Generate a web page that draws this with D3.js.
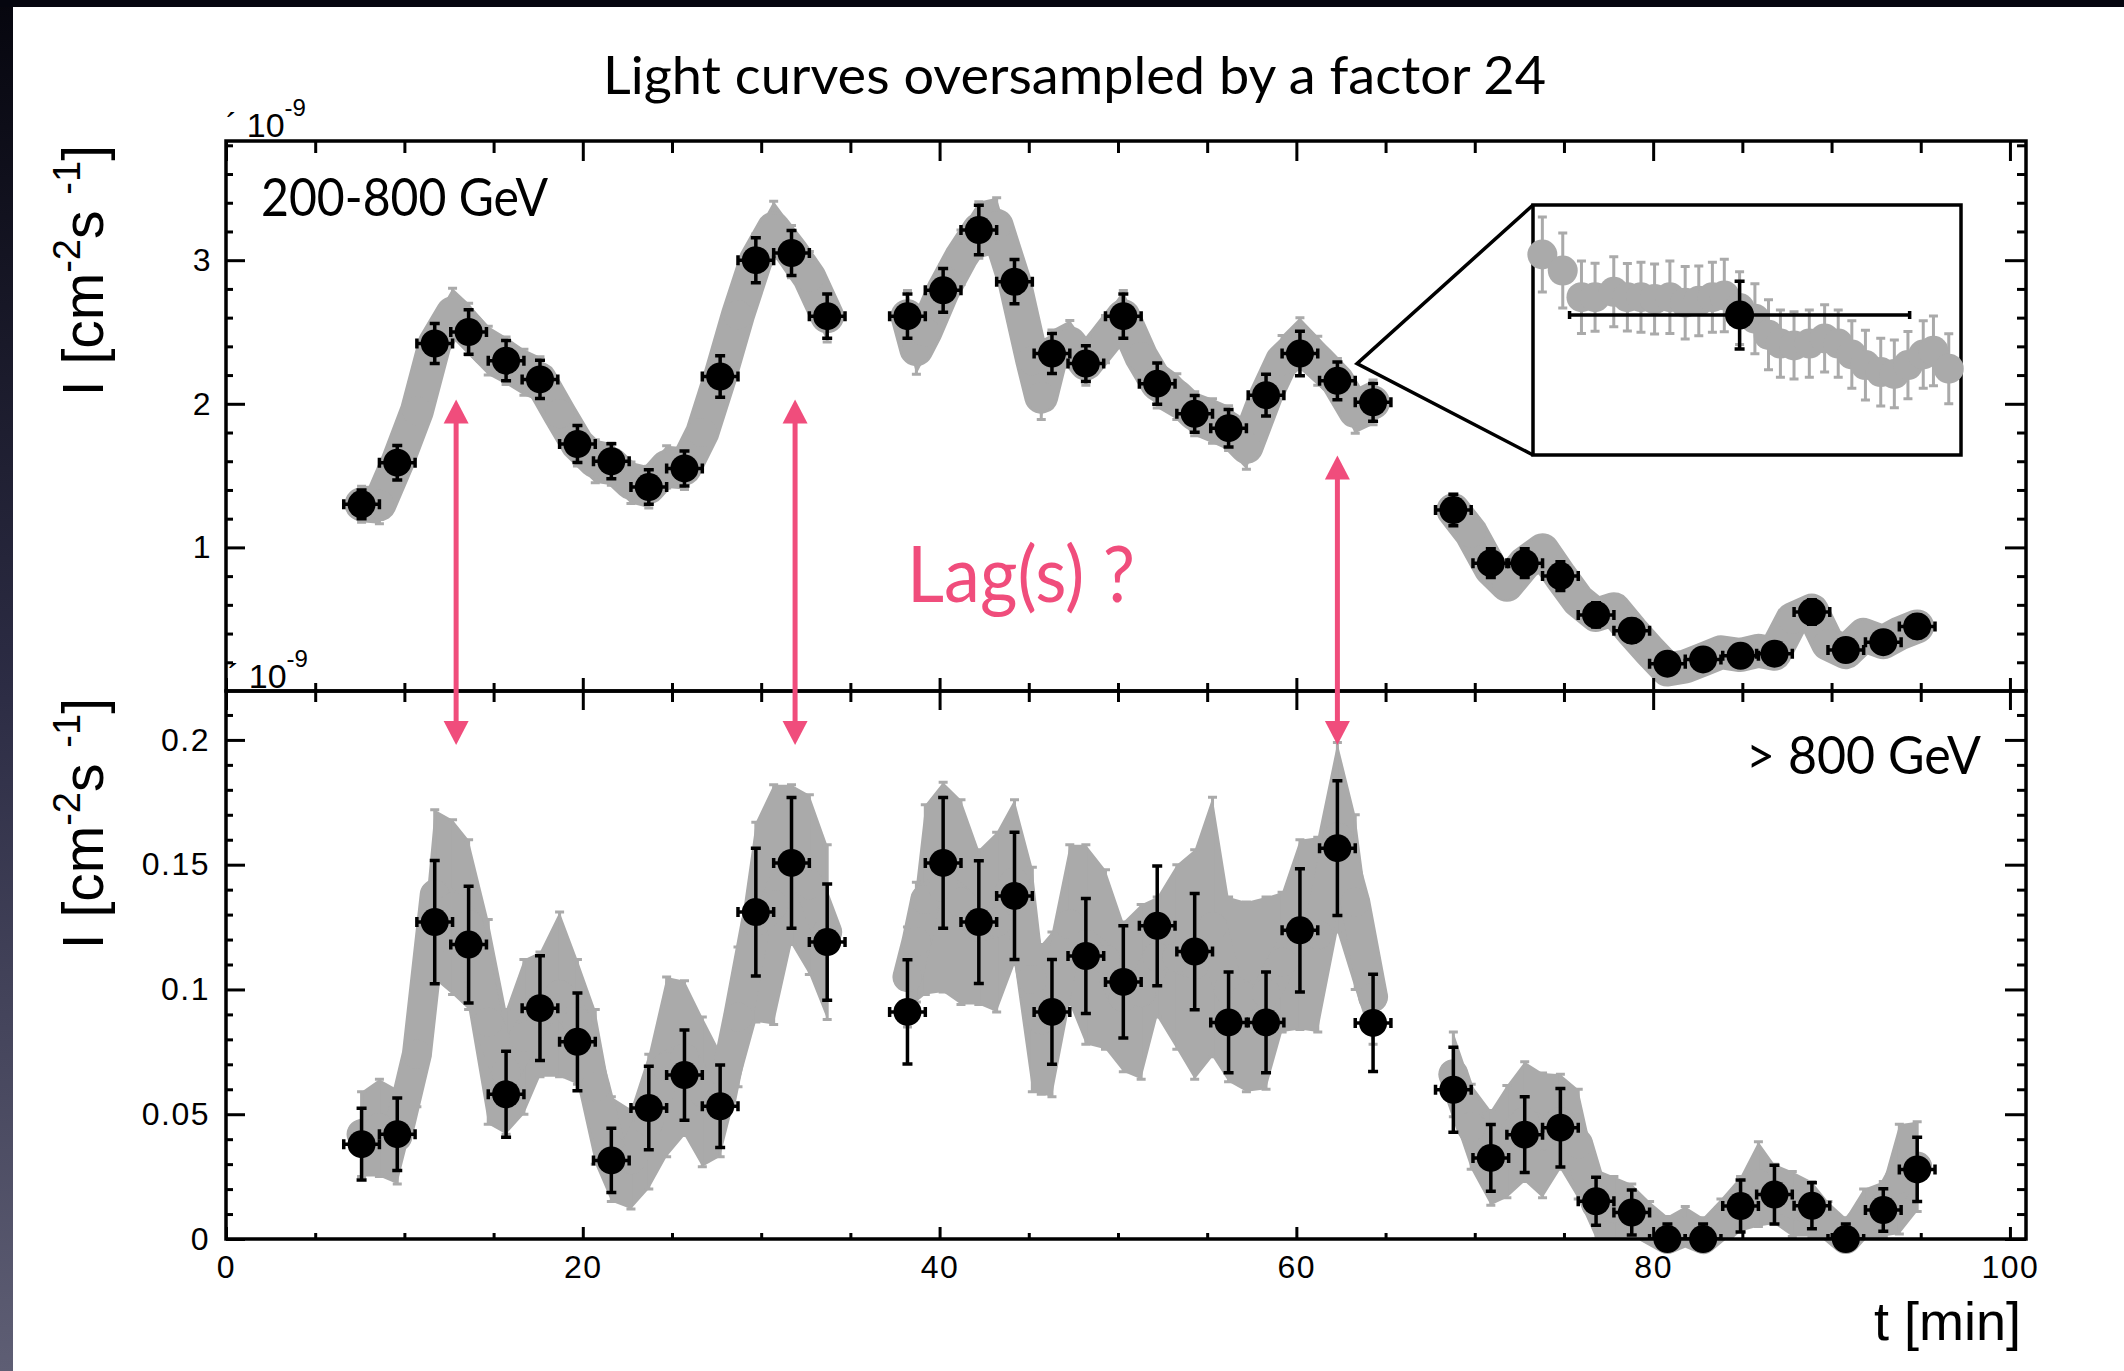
<!DOCTYPE html>
<html>
<head>
<meta charset="utf-8">
<script src="https://cdnjs.cloudflare.com/ajax/libs/d3/7.8.5/d3.min.js"></script>
<style>
body { margin: 0; background: #fff; }
svg { display: block; }
</style>
</head>
<body>
<svg id="chart" width="2124" height="1371"></svg>
<script>
// 2 min bins, t in minutes, flux in 1e-9 cm^-2 s^-1
const binTimes = [7.6, 9.6, 11.7, 13.6, 15.7, 17.6, 19.7, 21.6, 23.7, 25.7, 27.7, 29.7, 31.7, 33.7,
    38.2, 40.2, 42.2, 44.2, 46.3, 48.2, 50.3, 52.2, 54.3, 56.2, 58.3, 60.2, 62.3, 64.3,
    68.8, 70.9, 72.8, 74.8, 76.8, 78.8, 80.8, 82.8, 84.9, 86.8, 88.9, 90.8, 92.9, 94.8];
const fluxLow = [1.30, 1.59, 2.42, 2.50, 2.30, 2.17, 1.72, 1.60, 1.42, 1.55, 2.19, 3.00, 3.05, 2.61,
    2.61, 2.79, 3.21, 2.85, 2.35, 2.28, 2.61, 2.14, 1.93, 1.83, 2.06, 2.35, 2.16, 2.01,
    1.26, 0.89, 0.89, 0.80, 0.53, 0.42, 0.19, 0.22, 0.245, 0.26, 0.55, 0.285, 0.34, 0.45];
const errLow = [0.10, 0.12, 0.14, 0.155, 0.14, 0.133, 0.128, 0.122, 0.12, 0.122, 0.145, 0.157, 0.157, 0.154,
    0.154, 0.153, 0.172, 0.154, 0.139, 0.125, 0.154, 0.144, 0.128, 0.131, 0.145, 0.155, 0.131, 0.131,
    0.11, 0.10, 0.10, 0.10, 0.085, 0.08, 0.065, 0.065, 0.07, 0.07, 0.085, 0.07, 0.075, 0.08];
const fluxHigh = [0.038, 0.042, 0.127, 0.118, 0.058, 0.0925, 0.079, 0.0315, 0.0525, 0.0657, 0.0532, 0.131, 0.1507, 0.119,
    0.091, 0.1507, 0.127, 0.1375, 0.091, 0.1134, 0.103, 0.1255, 0.1152, 0.0868, 0.0868, 0.1237, 0.1566, 0.0866,
    0.0598, 0.0325, 0.0418, 0.0446, 0.0151, 0.0106, 0.0, 0.0, 0.0132, 0.0178, 0.0133, 0.0, 0.0116, 0.0279];
const errHigh = [0.0144, 0.0145, 0.0247, 0.0234, 0.0172, 0.021, 0.0196, 0.0129, 0.0167, 0.0181, 0.0165, 0.0256, 0.0262, 0.0233,
    0.0209, 0.0262, 0.0246, 0.0255, 0.021, 0.023, 0.0225, 0.024, 0.0233, 0.0202, 0.0202, 0.0247, 0.027, 0.0195,
    0.017, 0.0134, 0.0152, 0.0157, 0.0096, 0.009, 0.006, 0.006, 0.0104, 0.0118, 0.0092, 0.006, 0.0085, 0.0129];
const binHalfWidth = 1.0;

// oversampled curves (gray), read at ~1 min steps; errors give the spread of the gray cloud
const overTimes = [7.6, 8.6, 9.6, 10.7, 11.7, 12.7, 13.6, 14.7, 15.7, 16.7, 17.6, 18.7, 19.7, 20.7, 21.6, 22.7, 23.7, 24.7, 25.7, 26.7, 27.7, 28.7, 29.7, 30.7, 31.7, 32.7, 33.7,
    38.2, 38.7, 39.2, 40.2, 41.2, 42.2, 43.2, 44.2, 45.2, 45.7, 46.3, 47.3, 48.2, 49.3, 50.3, 51.3, 52.2, 53.3, 54.3, 55.3, 56.2, 57.2, 58.3, 59.2, 60.2, 61.2, 62.3, 63.3, 64.3,
    68.8, 69.8, 70.9, 71.8, 72.8, 73.8, 74.8, 75.8, 76.8, 77.8, 78.8, 79.8, 80.8, 81.8, 82.8, 83.8, 84.9, 85.9, 86.8, 87.8, 88.9, 89.8, 90.8, 91.8, 92.9, 93.8, 94.8];
const overLow = [1.30, 1.30, 1.59, 1.95, 2.42, 2.63, 2.52, 2.37, 2.30, 2.22, 2.17, 1.93, 1.72, 1.60, 1.58, 1.45, 1.42, 1.56, 1.55, 1.80, 2.19, 2.62, 3.00, 3.22, 3.06, 2.88, 2.61,
    2.61, 2.38, 2.50, 2.79, 3.02, 3.21, 3.24, 2.85, 2.30, 2.05, 2.35, 2.42, 2.28, 2.45, 2.61, 2.33, 2.14, 2.05, 1.93, 1.88, 1.83, 1.70, 2.06, 2.30, 2.42, 2.30, 2.16, 1.95, 2.01,
    1.26, 1.10, 0.85, 0.74, 0.89, 0.98, 0.80, 0.63, 0.53, 0.57, 0.42, 0.28, 0.15, 0.17, 0.22, 0.27, 0.25, 0.28, 0.26, 0.50, 0.56, 0.33, 0.27, 0.39, 0.34, 0.40, 0.45];
const overLowErr = [0.125, 0.135, 0.145, 0.155, 0.165, 0.175, 0.18, 0.17, 0.165, 0.16, 0.158, 0.155, 0.153, 0.15, 0.147, 0.145, 0.145, 0.147, 0.147, 0.155, 0.17, 0.175, 0.182, 0.19, 0.182, 0.18, 0.179,
    0.179, 0.175, 0.175, 0.178, 0.19, 0.197, 0.195, 0.179, 0.165, 0.16, 0.164, 0.16, 0.15, 0.165, 0.179, 0.17, 0.169, 0.16, 0.153, 0.155, 0.156, 0.155, 0.17, 0.175, 0.18, 0.17, 0.156, 0.155, 0.156,
    0.11, 0.105, 0.10, 0.095, 0.10, 0.10, 0.10, 0.09, 0.085, 0.085, 0.08, 0.07, 0.065, 0.065, 0.065, 0.068, 0.07, 0.07, 0.07, 0.08, 0.085, 0.075, 0.07, 0.075, 0.075, 0.078, 0.08];
const overHigh = [0.042, 0.0445, 0.041, 0.074, 0.138, 0.133, 0.126, 0.087, 0.067, 0.081, 0.09, 0.098, 0.087, 0.061, 0.036, 0.032, 0.047, 0.069, 0.0725, 0.059, 0.054, 0.089, 0.127, 0.134, 0.15, 0.142, 0.123,
    0.105, 0.119, 0.136, 0.141, 0.135, 0.125, 0.127, 0.143, 0.104, 0.088, 0.09, 0.126, 0.118, 0.112, 0.097, 0.099, 0.113, 0.113, 0.11, 0.125, 0.10, 0.097, 0.0985, 0.111, 0.122, 0.122, 0.161, 0.135, 0.097,
    0.066, 0.045, 0.0325, 0.039, 0.047, 0.0415, 0.047, 0.038, 0.014, 0.0125, 0.011, 0.004, 0.0, 0.003, 0.0, 0.006, 0.014, 0.022, 0.018, 0.014, 0.012, 0.006, 0.0, 0.008, 0.012, 0.024, 0.029];
const overHighErr = [0.017, 0.0195, 0.019, 0.021, 0.034, 0.035, 0.034, 0.041, 0.025, 0.031, 0.025, 0.033, 0.025, 0.031, 0.021, 0.02, 0.027, 0.036, 0.031, 0.030, 0.021, 0.028, 0.04, 0.048, 0.032, 0.036, 0.035,
    0.02, 0.024, 0.038, 0.042, 0.041, 0.031, 0.036, 0.033, 0.045, 0.03, 0.033, 0.032, 0.04, 0.036, 0.03, 0.035, 0.024, 0.037, 0.046, 0.052, 0.037, 0.038, 0.0385, 0.028, 0.038, 0.039, 0.038, 0.035, 0.019,
    0.017, 0.017, 0.019, 0.0225, 0.024, 0.025, 0.019, 0.022, 0.014, 0.0125, 0.011, 0.011, 0.009, 0.01, 0.0085, 0.01, 0.011, 0.017, 0.012, 0.013, 0.011, 0.009, 0.0085, 0.012, 0.011, 0.022, 0.018];

// inset: oversampled points inside one bin (offset from bin centre in min)
const insetBin = 27;
const insetDt = [-1.16, -1.04, -0.93, -0.85, -0.74, -0.66, -0.58, -0.50, -0.41, -0.32, -0.24, -0.16, -0.09, 0.0, 0.09,
    0.17, 0.24, 0.32, 0.41, 0.50, 0.58, 0.66, 0.74, 0.83, 0.91, 0.99, 1.08, 1.14, 1.23];
const insetFlux = [2.244, 2.182, 2.079, 2.079, 2.10, 2.079, 2.079, 2.072, 2.079, 2.058, 2.065, 2.079, 2.086, 2.037, 1.996,
    1.934, 1.90, 1.893, 1.90, 1.92, 1.90, 1.858, 1.817, 1.79, 1.783, 1.817, 1.858, 1.872, 1.803];
const insetErr = [0.145, 0.145, 0.14, 0.131, 0.135, 0.13, 0.135, 0.135, 0.14, 0.14, 0.135, 0.135, 0.14, 0.14, 0.135,
    0.135, 0.13, 0.13, 0.13, 0.13, 0.13, 0.13, 0.135, 0.131, 0.131, 0.13, 0.13, 0.135, 0.135];
const zoomFrom = [63.4, 2.28];

const arrowTimes = [12.9, 31.9, 62.3];
const arrowTopFlux = [2.03, 2.03, 1.64];
const arrowBottomFlux = 0.198;

const xMajor = [0, 20, 40, 60, 80, 100];
const xLabels = ["0", "20", "40", "60", "80", "100"];
const yTopMajor = [1, 2, 3];
const yTopLabels = ["1", "2", "3"];
const yBotMajor = [0, 0.05, 0.1, 0.15, 0.2];
const yBotLabels = ["0", "0.05", "0.1", "0.15", "0.2"];

const W = 2124, H = 1371;
const left = 226, right = 2026, topY = 141, midY = 691, botY = 1239;
const GRAY = "#aaaaaa", PINK = "#f04d7c";
const ROOTFONT = "'Liberation Sans', Arial, Helvetica, sans-serif";
const GILL = "Lato, 'Open Sans', sans-serif";

const svg = d3.select("#chart");
const x = d3.scaleLinear().domain([0, 100.9]).range([left, right]);
const yTop = d3.scaleLinear().domain([0, 3.83]).range([midY, topY]);
const yBot = d3.scaleLinear().domain([0, 0.2196]).range([botY, midY]);

// background and the dark slide edges
svg.append("rect").attr("width", W).attr("height", H).attr("fill", "#fff");
const defs = svg.append("defs");
const grad = defs.append("linearGradient").attr("id", "edge")
    .attr("x1", 0).attr("y1", 0).attr("x2", 0).attr("y2", 1);
grad.append("stop").attr("offset", 0).attr("stop-color", "#06060e");
grad.append("stop").attr("offset", 0.5).attr("stop-color", "#2c2c44");
grad.append("stop").attr("offset", 1).attr("stop-color", "#5e5e74");
svg.append("rect").attr("width", 13).attr("height", H).attr("fill", "url(#edge)");
svg.append("rect").attr("width", W).attr("height", 7).attr("fill", "#05060f");

defs.append("clipPath").attr("id", "clipTop").append("rect")
    .attr("x", left).attr("y", topY).attr("width", right - left).attr("height", midY - topY);
defs.append("clipPath").attr("id", "clipBot").append("rect")
    .attr("x", left).attr("y", midY).attr("width", right - left).attr("height", botY - midY);

function splitRuns(times) {
    const runs = [];
    let cur = [0];
    for (let i = 1; i < times.length; i++) {
        if (times[i] - times[i - 1] > 3) { runs.push(cur); cur = []; }
        cur.push(i);
    }
    runs.push(cur);
    return runs;
}

function errPath(cx, cy, yt, yb, cap) {
    return `M${cx},${yb}V${yt}M${cx - cap},${yt}h${2 * cap}M${cx - cap},${yb}h${2 * cap}`;
}

function drawGray(y, vals, errs, clipId, width) {
    const g = svg.append("g");
    const clipped = g.append("g").attr("clip-path", `url(#${clipId})`);
    const runs = splitRuns(overTimes);
    const idx = d3.range(overTimes.length);
    const area = d3.area()
        .x(i => x(overTimes[i]))
        .y0(i => y(vals[i] - errs[i]))
        .y1(i => y(vals[i] + errs[i]));
    const line = d3.line().x(i => x(overTimes[i])).y(i => y(vals[i]));
    runs.forEach(run => clipped.append("path").attr("d", area(run)).attr("fill", GRAY));
    clipped.selectAll("path.err").data(idx).join("path").attr("class", "err")
        .attr("d", i => errPath(x(overTimes[i]), y(vals[i]), y(vals[i] + errs[i]), y(vals[i] - errs[i]), 4.5))
        .attr("fill", "none").attr("stroke", GRAY).attr("stroke-width", 3);
    runs.forEach(run => g.append("path").attr("d", line(run))
        .attr("fill", "none").attr("stroke", GRAY).attr("stroke-width", width)
        .attr("stroke-linecap", "round").attr("stroke-linejoin", "round"));
    g.selectAll("circle").data(idx).join("circle")
        .attr("cx", i => x(overTimes[i])).attr("cy", i => y(vals[i])).attr("r", 14.5)
        .attr("fill", GRAY);
}

function drawBins(y, vals, errs, clipId) {
    const g = svg.append("g");
    const idx = d3.range(binTimes.length);
    g.append("g").attr("clip-path", `url(#${clipId})`)
        .selectAll("path").data(idx).join("path")
        .attr("d", i => {
            const cx = x(binTimes[i]), cy = y(vals[i]);
            const xl = x(binTimes[i] - binHalfWidth), xr = x(binTimes[i] + binHalfWidth);
            return errPath(cx, cy, y(vals[i] + errs[i]), y(vals[i] - errs[i]), 5) +
                `M${xl},${cy}H${xr}M${xl},${cy - 5}v10M${xr},${cy - 5}v10`;
        })
        .attr("fill", "none").attr("stroke", "#000").attr("stroke-width", 3.5);
    g.selectAll("circle").data(idx).join("circle")
        .attr("cx", i => x(binTimes[i])).attr("cy", i => y(vals[i])).attr("r", 14)
        .attr("fill", "#000");
}

function styleAxis(sel) {
    sel.select(".domain").remove();
    sel.selectAll(".tick line").attr("stroke", "#000").attr("stroke-width", 3);
    sel.selectAll(".tick text").attr("fill", "#000")
        .attr("font-family", ROOTFONT).attr("font-size", 32).style("letter-spacing", "1.5px");
}

function axis(gen, tx, ty) {
    svg.append("g").attr("transform", `translate(${tx},${ty})`).call(gen).call(styleAxis);
}

drawGray(yTop, overLow, overLowErr, "clipTop", 34);
drawGray(yBot, overHigh, overHighErr, "clipBot", 30);

// ticks
const xMinor = d3.range(0, 101, 5).filter(v => v % 20 !== 0);
axis(d3.axisBottom(x).tickValues(xMajor).tickSize(20).tickFormat(""), 0, topY);
axis(d3.axisBottom(x).tickValues(xMinor).tickSize(12).tickFormat(""), 0, topY);
axis(d3.axisBottom(x).tickValues(xMajor).tickSize(-13).tickFormat(""), 0, midY);
axis(d3.axisBottom(x).tickValues(xMinor).tickSize(-8).tickFormat(""), 0, midY);
axis(d3.axisBottom(x).tickValues(xMajor).tickSize(19).tickFormat(""), 0, midY);
axis(d3.axisBottom(x).tickValues(xMinor).tickSize(11).tickFormat(""), 0, midY);
axis(d3.axisBottom(x).tickValues(xMajor).tickSize(-12).tickPadding(16)
    .tickFormat((d, i) => xLabels[i]), 0, botY);
axis(d3.axisBottom(x).tickValues(xMinor).tickSize(-6).tickFormat(""), 0, botY);

const yTopMinor = d3.range(1, 20).map(k => k * 0.2).filter(v => Math.abs(v - Math.round(v)) > 1e-6);
const yBotMinor = d3.range(1, 22).map(k => k * 0.01).filter(v => Math.abs(v * 20 - Math.round(v * 20)) > 1e-6);
axis(d3.axisLeft(yTop).tickValues(yTopMajor).tickSize(-19).tickPadding(14)
    .tickFormat((d, i) => yTopLabels[i]), left, 0);
axis(d3.axisLeft(yTop).tickValues(yTopMinor).tickSize(-7).tickFormat(""), left, 0);
axis(d3.axisRight(yTop).tickValues(yTopMajor).tickSize(-21).tickFormat(""), right, 0);
axis(d3.axisRight(yTop).tickValues(yTopMinor).tickSize(-9).tickFormat(""), right, 0);
axis(d3.axisLeft(yBot).tickValues(yBotMajor).tickSize(-19).tickPadding(16)
    .tickFormat((d, i) => yBotLabels[i]), left, 0);
axis(d3.axisLeft(yBot).tickValues(yBotMinor).tickSize(-7).tickFormat(""), left, 0);
axis(d3.axisRight(yBot).tickValues(yBotMajor).tickSize(-21).tickFormat(""), right, 0);
axis(d3.axisRight(yBot).tickValues(yBotMinor).tickSize(-9).tickFormat(""), right, 0);

// frames
[[topY, midY], [midY, botY]].forEach(([a, b]) => {
    svg.append("rect").attr("x", left).attr("y", a).attr("width", right - left).attr("height", b - a)
        .attr("fill", "none").attr("stroke", "#000").attr("stroke-width", 3.5);
});

drawBins(yTop, fluxLow, errLow, "clipTop");
drawBins(yBot, fluxHigh, errHigh, "clipBot");

// inset zoom on one bin
const insetX = d3.scaleLinear().domain([-1.215, 1.302]).range([1533, 1961]);
const insetY = d3.scaleLinear().domain([1.47, 2.435]).range([455, 205]);
const zx = x(zoomFrom[0]), zy = yTop(zoomFrom[1]);
svg.append("path")
    .attr("d", `M${insetX.range()[0]},${insetY.range()[1]}L${zx},${zy}L${insetX.range()[0]},${insetY.range()[0]}`)
    .attr("fill", "none").attr("stroke", "#000").attr("stroke-width", 3.5);
svg.append("rect").attr("x", 1533).attr("y", 205).attr("width", 428).attr("height", 250)
    .attr("fill", "#fff").attr("stroke", "#000").attr("stroke-width", 3.5);
const inset = svg.append("g");
const iIdx = d3.range(insetDt.length);
inset.selectAll("path").data(iIdx).join("path")
    .attr("d", i => errPath(insetX(insetDt[i]), insetY(insetFlux[i]),
        insetY(insetFlux[i] + insetErr[i]), insetY(insetFlux[i] - insetErr[i]), 4.5))
    .attr("fill", "none").attr("stroke", GRAY).attr("stroke-width", 3);
inset.selectAll("circle").data(iIdx).join("circle")
    .attr("cx", i => insetX(insetDt[i])).attr("cy", i => insetY(insetFlux[i])).attr("r", 15)
    .attr("fill", GRAY);
{
    const cx = insetX(0), cy = insetY(fluxLow[insetBin]);
    const xl = insetX(-binHalfWidth), xr = insetX(binHalfWidth);
    inset.append("path")
        .attr("d", errPath(cx, cy, insetY(fluxLow[insetBin] + errLow[insetBin]),
            insetY(fluxLow[insetBin] - errLow[insetBin]), 5) +
            `M${xl},${cy}H${xr}M${xl},${cy - 4}v8M${xr},${cy - 4}v8`)
        .attr("fill", "none").attr("stroke", "#000").attr("stroke-width", 3.5);
    inset.append("circle").attr("cx", cx).attr("cy", cy).attr("r", 14.5).attr("fill", "#000");
}

// lag arrows
arrowTimes.forEach((t, i) => {
    const ax = x(t), y1 = yTop(arrowTopFlux[i]), y2 = yBot(arrowBottomFlux);
    svg.append("line").attr("x1", ax).attr("x2", ax).attr("y1", y1 + 18).attr("y2", y2 - 18)
        .attr("stroke", PINK).attr("stroke-width", 5);
    svg.append("path").attr("d", `M${ax},${y1}L${ax - 12.5},${y1 + 24}L${ax + 12.5},${y1 + 24}Z`).attr("fill", PINK);
    svg.append("path").attr("d", `M${ax},${y2}L${ax - 12.5},${y2 - 24}L${ax + 12.5},${y2 - 24}Z`).attr("fill", PINK);
});

// texts
svg.append("text").attr("x", 603).attr("y", 94).attr("textLength", 943).attr("lengthAdjust", "spacingAndGlyphs")
    .attr("font-family", GILL).attr("font-size", 53).attr("fill", "#000")
    .text("Light curves oversampled by a factor 24");
svg.append("text").attr("x", 261).attr("y", 216).attr("textLength", 287).attr("lengthAdjust", "spacingAndGlyphs")
    .attr("font-family", GILL).attr("font-size", 52).attr("fill", "#000").text("200-800 GeV");
svg.append("text").attr("x", 1746).attr("y", 774).attr("textLength", 235).attr("lengthAdjust", "spacingAndGlyphs")
    .attr("font-family", GILL).attr("font-size", 52).attr("fill", "#000").text("> 800 GeV");
svg.append("text").attr("x", 907).attr("y", 602).attr("textLength", 228).attr("lengthAdjust", "spacingAndGlyphs")
    .attr("font-family", GILL).attr("font-size", 77).attr("fill", PINK).text("Lag(s) ?");

svg.append("text").attr("x", 2021).attr("y", 1340).attr("text-anchor", "end")
    .attr("font-family", ROOTFONT).attr("font-size", 54).attr("fill", "#000").text("t [min]");

function yTitle(yEnd) {
    const t = svg.append("text").attr("transform", `translate(103,${yEnd}) rotate(-90)`)
        .attr("text-anchor", "end").attr("font-family", ROOTFONT).attr("font-size", 57)
        .attr("fill", "#000").style("white-space", "pre");
    t.append("tspan").text("I [cm");
    t.append("tspan").attr("font-size", 38).attr("dy", -23).text("-2");
    t.append("tspan").attr("dy", 23).text("s ");
    t.append("tspan").attr("font-size", 38).attr("dy", -23).text("-1");
    t.append("tspan").attr("dy", 23).text("]");
}
yTitle(145);
yTitle(698);

function expLabel(xPos, base) {
    const t = svg.append("text").attr("x", xPos).attr("y", base)
        .attr("font-family", ROOTFONT).attr("font-size", 34).attr("fill", "#000").style("white-space", "pre");
    t.append("tspan").text("´ 10");
    t.append("tspan").attr("dy", -21).attr("font-size", 24).text("-9");
}
expLabel(226, 137);
expLabel(228, 688);
</script>
</body>
</html>
